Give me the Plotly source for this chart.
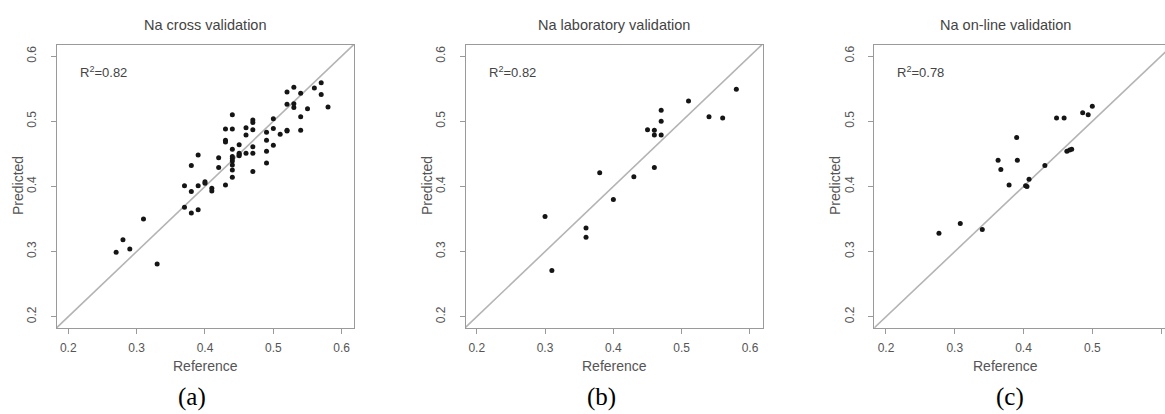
import plotly.graph_objects as go

# ---------------- data ----------------
titles = ["Na cross validation", "Na laboratory validation", "Na on-line validation"]
r2_labels = ["0.82", "0.82", "0.78"]
panel_labels = ["(a)", "(b)", "(c)"]
tick_vals = [0.2, 0.3, 0.4, 0.5, 0.6]
tick_text = ["0.2", "0.3", "0.4", "0.5", "0.6"]

cross_ref = [0.27, 0.28, 0.29, 0.31, 0.33, 0.37, 0.37, 0.38, 0.38, 0.38, 0.39, 0.39, 0.39,
             0.40, 0.40, 0.41, 0.41, 0.42, 0.42, 0.43, 0.43, 0.43, 0.43,
             0.44, 0.44, 0.44, 0.44, 0.44, 0.44, 0.44, 0.44, 0.44,
             0.45, 0.45, 0.45, 0.45, 0.46, 0.46, 0.46,
             0.47, 0.47, 0.47, 0.47, 0.47, 0.47, 0.49, 0.49, 0.49, 0.49,
             0.50, 0.50, 0.50, 0.51, 0.52, 0.52, 0.52, 0.52,
             0.53, 0.53, 0.53, 0.54, 0.54, 0.54, 0.55, 0.56, 0.57, 0.57, 0.58]
cross_pred = [0.299, 0.318, 0.304, 0.350, 0.281, 0.368, 0.401, 0.359, 0.392, 0.432, 0.364, 0.401, 0.448,
              0.407, 0.405, 0.397, 0.393, 0.444, 0.429, 0.488, 0.471, 0.468, 0.402,
              0.510, 0.488, 0.457, 0.446, 0.443, 0.439, 0.433, 0.425, 0.414,
              0.464, 0.451, 0.447, 0.449, 0.490, 0.479, 0.451,
              0.502, 0.498, 0.487, 0.461, 0.451, 0.423, 0.483, 0.471, 0.454, 0.436,
              0.504, 0.489, 0.463, 0.480, 0.545, 0.526, 0.485, 0.486,
              0.552, 0.527, 0.521, 0.543, 0.507, 0.486, 0.519, 0.551, 0.559, 0.541, 0.522]

lab_ref = [0.30, 0.31, 0.36, 0.36, 0.38, 0.40, 0.43, 0.45, 0.46, 0.46, 0.46,
           0.47, 0.47, 0.47, 0.51, 0.54, 0.56, 0.58]
lab_pred = [0.354, 0.271, 0.336, 0.322, 0.421, 0.380, 0.415, 0.487, 0.486, 0.479, 0.429,
            0.517, 0.500, 0.479, 0.531, 0.507, 0.505, 0.549]

online_ref = [0.277, 0.308, 0.340, 0.363, 0.367, 0.379, 0.390, 0.391, 0.403, 0.405, 0.408,
              0.431, 0.448, 0.459, 0.463, 0.467, 0.470, 0.486, 0.494, 0.500]
online_pred = [0.328, 0.343, 0.334, 0.440, 0.426, 0.402, 0.475, 0.440, 0.401, 0.400, 0.411,
               0.432, 0.505, 0.505, 0.454, 0.456, 0.457, 0.513, 0.510, 0.523]

refs = [cross_ref, lab_ref, online_ref]
preds = [cross_pred, lab_pred, online_pred]

# ---------------- layout geometry ----------------
W, H = 1165, 414
x_domains = [[57 / W, 354 / W], [466 / W, 762.7 / W], [874.3 / W, 1.0]]
x_ranges = [[0.1835, 0.618], [0.1843, 0.6186], [0.183, 0.6057]]
y_domain = [1 - 328 / H, 1 - 45 / H]
y_range = [0.1827, 0.617]

box_col = "#9a9a9a"
txt_col = "#555555"
font_fam = "Liberation Sans, Arial, sans-serif"

fig = go.Figure()
diag = [0.1, 0.7]
for i in range(3):
    xa = "x" if i == 0 else f"x{i+1}"
    ya = "y" if i == 0 else f"y{i+1}"
    fig.add_trace(go.Scatter(x=diag, y=diag, mode="lines", xaxis=xa, yaxis=ya,
                             line=dict(color="#b4b4b4", width=1.6), hoverinfo="skip",
                             showlegend=False))
    fig.add_trace(go.Scatter(x=refs[i], y=preds[i], mode="markers", xaxis=xa, yaxis=ya,
                             marker=dict(color="#151515", size=5, line=dict(width=0)),
                             showlegend=False))

layout = dict(width=W, height=H, margin=dict(l=0, r=0, t=0, b=0),
              paper_bgcolor="white", plot_bgcolor="white", showlegend=False,
              font=dict(family=font_fam, color=txt_col))

for i in range(3):
    xk = "xaxis" if i == 0 else f"xaxis{i+1}"
    yk = "yaxis" if i == 0 else f"yaxis{i+1}"
    ya = "y" if i == 0 else f"y{i+1}"
    xa = "x" if i == 0 else f"x{i+1}"
    layout[xk] = dict(domain=x_domains[i], range=x_ranges[i], anchor=ya,
                      showgrid=False, zeroline=False, showline=True, linecolor=box_col,
                      linewidth=1, mirror=True, ticks="outside", ticklen=5, tickwidth=1,
                      tickcolor=box_col, tickvals=tick_vals, ticktext=tick_text,
                      tickfont=dict(size=12, color=txt_col), ticklabelstandoff=4)
    layout[yk] = dict(domain=y_domain, range=y_range, anchor=xa,
                      showgrid=False, zeroline=False, showline=True, linecolor=box_col,
                      linewidth=1, mirror=(i < 2), ticks="outside", ticklen=5, tickwidth=1,
                      tickcolor=box_col, tickvals=tick_vals, ticktext=tick_text,
                      tickangle=-90, tickfont=dict(size=12, color=txt_col),
                      ticklabelstandoff=10)

fig.update_layout(**layout)

# titles, axis labels, R^2, panel labels
title_x = [205.5, 614.3, 1005]
ylab_x = [18, 427, 835]
r2_x = [78, 487, 895]
panel_x = [192, 601.7, 1010]
for i in range(3):
    fig.add_annotation(text=titles[i], x=title_x[i] / W, y=1 - 25 / H, xref="paper", yref="paper",
                       showarrow=False, font=dict(size=14.5, color="#444444", family=font_fam),
                       xanchor="center", yanchor="middle")
    fig.add_annotation(text="Reference", x=title_x[i] / W, y=1 - 366 / H, xref="paper", yref="paper",
                       showarrow=False, font=dict(size=14, color=txt_col, family=font_fam),
                       xanchor="center", yanchor="middle")
    fig.add_annotation(text="Predicted", x=ylab_x[i] / W, y=1 - 186 / H, xref="paper", yref="paper",
                       showarrow=False, textangle=-90, font=dict(size=14, color=txt_col, family=font_fam),
                       xanchor="center", yanchor="middle")
    fig.add_annotation(text="R<sup>2</sup>=" + r2_labels[i], x=r2_x[i] / W, y=1 - 72 / H,
                       xref="paper", yref="paper", showarrow=False,
                       font=dict(size=13, color="#444444", family=font_fam),
                       xanchor="left", yanchor="middle")
    fig.add_annotation(text=panel_labels[i], x=panel_x[i] / W, y=1 - 397 / H, xref="paper", yref="paper",
                       showarrow=False, font=dict(size=25, color="black",
                                                  family="Liberation Serif, Times New Roman, serif"),
                       xanchor="center", yanchor="middle")

fig.write_html("out.html", config={"displayModeBar": False},
               post_script="document.body.style.margin='0px';document.body.style.overflow='hidden';")
